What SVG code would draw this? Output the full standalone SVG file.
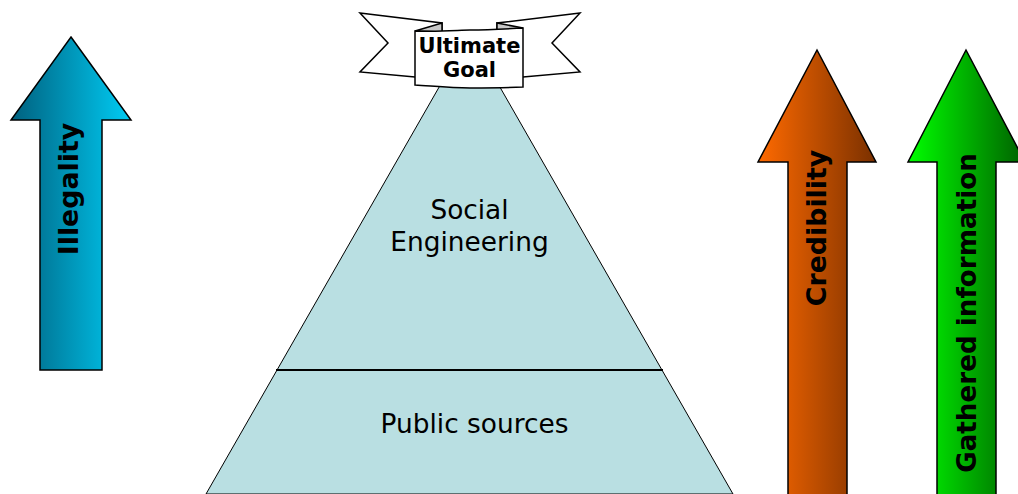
<svg xmlns="http://www.w3.org/2000/svg" width="1018" height="494" viewBox="0 0 1018 494">
  <defs>
    <linearGradient id="gBlue" x1="0" y1="0" x2="1" y2="0">
      <stop offset="0" stop-color="#00607e"/>
      <stop offset="1" stop-color="#00ccf4"/>
    </linearGradient>
    <linearGradient id="gOrange" x1="0" y1="0" x2="1" y2="0">
      <stop offset="0" stop-color="#ff6a00"/>
      <stop offset="1" stop-color="#7a3000"/>
    </linearGradient>
    <linearGradient id="gGreen" x1="0" y1="0" x2="1" y2="0">
      <stop offset="0" stop-color="#00ff00"/>
      <stop offset="1" stop-color="#006000"/>
    </linearGradient>
    <style>
      .arrow { stroke: #000; stroke-width: 1.5; stroke-linejoin: miter; }
      .alabel { font-family: "DejaVu Sans", Verdana, sans-serif; font-weight: bold; font-size: 26.8px; fill: #000; text-anchor: middle; }
      .long { font-size: 26.2px; }
      .layer { fill: #b9dfe2; stroke: #000; stroke-width: 1; }
      .ltext { font-family: "DejaVu Sans", Verdana, sans-serif; font-size: 26.4px; fill: #000; text-anchor: middle; }
      .ribbon { fill: #fff; stroke: #000; stroke-width: 1.5; stroke-linejoin: miter; }
      .fold { fill: #c8c8c8; stroke: #000; stroke-width: 1.5; }
      .rtext { font-family: "DejaVu Sans", Verdana, sans-serif; font-weight: bold; font-size: 21px; fill: #000; text-anchor: middle; }
    </style>
  </defs>

  <!-- pyramid -->
  <g id="pyramid">
    <polygon class="layer" points="469.5,34 733,494 206,494"/>
    <line x1="276" y1="370" x2="663" y2="370" stroke="#000" stroke-width="2"/>
    <text class="ltext" x="469.5" y="219">Social</text>
    <text class="ltext" x="469.5" y="251">Engineering</text>
    <text class="ltext" x="474.5" y="433">Public sources</text>
  </g>

  <!-- banner at the apex -->
  <g id="ultimate-goal">
    <path class="ribbon" d="M360,13 L442,23 L442,72 L415,77 L360,72 L388,43 Z"/>
    <path class="ribbon" d="M580,13 L497,23 L497,72 L523,77 L580,72 L552,43 Z"/>
    <path class="fold" d="M415,31 L442,23 L442,32 Z"/>
    <path class="fold" d="M523,28 L497,23 L497,31 Z"/>
    <path class="ribbon" d="M415,31 C440,32 460,30 470,30 C490,30 505,29 523,28 L523,87 C505,88 490,88 470,88 C450,88 432,86 415,85 Z"/>
    <text class="rtext" x="469.5" y="53">Ultimate</text>
    <text class="rtext" x="469.5" y="77">Goal</text>
  </g>

  <!-- Illegality arrow -->
  <g id="illegality">
    <polygon class="arrow" fill="url(#gBlue)" points="71,37 131,120 102,120 102,370 40,370 40,120 11,120"/>
    <text class="alabel" transform="translate(78,189) rotate(-90)">Illegality</text>
  </g>

  <!-- Credibility arrow -->
  <g id="credibility">
    <polygon class="arrow" fill="url(#gOrange)" points="817,50 876,162 847,162 847,500 788,500 788,162 758,162"/>
    <text class="alabel" transform="translate(826,228) rotate(-90)">Credibility</text>
  </g>

  <!-- Gathered information arrow -->
  <g id="gathered-information">
    <polygon class="arrow" fill="url(#gGreen)" points="966,50 1025,162 996,162 996,500 937,500 937,162 908,162"/>
    <text class="alabel long" transform="translate(976,313) rotate(-90)">Gathered information</text>
  </g>

  <g id="connectors"/>
</svg>
